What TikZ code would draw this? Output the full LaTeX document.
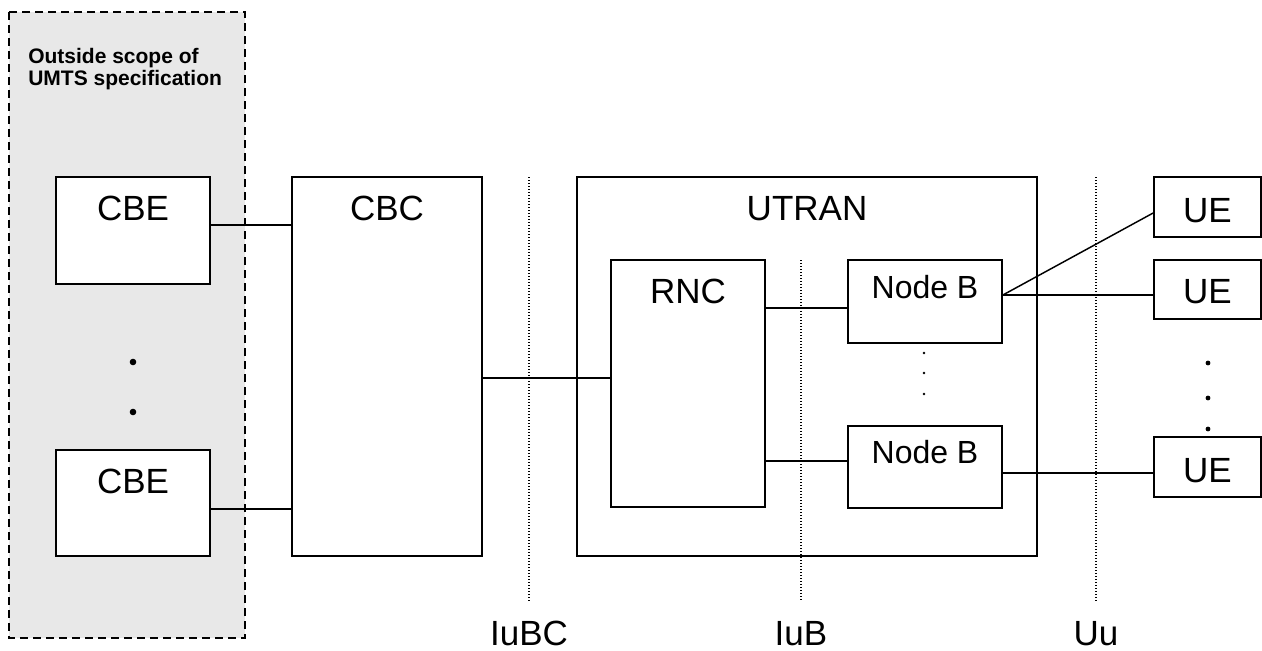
\documentclass[tikz,border=0pt]{standalone}
\usepackage{fontspec}
\setmainfont{Liberation Sans}
\begin{document}
\begin{tikzpicture}[x=0.75pt,y=-0.75pt,
  box/.style args={#1 by #2}{draw, line width=1.3pt, fill=white, inner sep=0pt,
    minimum width=#1*0.75pt, minimum height=#2*0.75pt},
  big/.style={font=\fontsize{26.25}{30}\selectfont, inner sep=0pt, anchor=base},
  mid/.style={font=\fontsize{24}{28}\selectfont, inner sep=0pt, anchor=base},
  note/.style={font=\fontsize{15.75}{16.5}\selectfont\bfseries, inner sep=0pt, anchor=base west},
  link/.style={line width=1.1pt},
  iface/.style={line width=0.9pt, dash pattern=on 0.75pt off 1.5pt},
  edge/.style={line width=1.4pt, dash pattern=on 6pt off 3.75pt}]

\useasboundingbox (0,0) rectangle (1262,650);

% region outside the UMTS specification
\fill[fill={rgb,255:red,232;green,232;blue,232}] (9,12) rectangle (245,638);
\draw[edge] (9,12) rectangle (245,638);
\node[note] (out1) at (28,63) {Outside scope of};
\node[note] (out2) at (28,85) {UMTS specification};

% interface boundaries
\coordinate (iubcT) at (529,177); \coordinate (iubcB) at (529,602);
\coordinate (iubT)  at (801,260); \coordinate (iubB)  at (801,602);
\coordinate (uuT)   at (1096,177); \coordinate (uuB)  at (1096,602);
\draw[iface] (iubcT) -- (iubcB);
\draw[iface] (uuT) -- (uuB);

% broadcast entities
\node[box=154 by 107] (cbe1) at (133,230.5) {};
\node[box=154 by 106] (cbe2) at (133,503) {};
\node[big] (cbe1t) at (133,220) {CBE};
\node[big] (cbe2t) at (133,493) {CBE};
\fill (133,362) circle[radius=3.3];
\fill (133,412) circle[radius=3.3];

% centre
\node[box=190 by 379] (cbc) at (387,366.5) {};
\node[big] (cbct) at (387,220) {CBC};

% radio access network
\node[box=460 by 379] (utran) at (807,366.5) {};
\node[big] (utrant) at (807,220) {UTRAN};
\draw[iface] (iubT) -- (iubB);
\node[box=154 by 247] (rnc) at (688,383.5) {};
\node[big] (rnct) at (688,303) {RNC};
\node[box=154 by 83] (nb1) at (925,301.5) {};
\node[box=154 by 82] (nb2) at (925,467) {};
\node[mid] (nb1t) at (925,298) {Node B};
\node[mid] (nb2t) at (925,463) {Node B};
\fill (924,353) circle[radius=1.4];
\fill (924,373) circle[radius=1.4];
\fill (924,394) circle[radius=1.4];

% user equipment
\fill (1208,363) circle[radius=2.4];
\fill (1208,398) circle[radius=2.4];
\fill (1208,429) circle[radius=2.4];
\node[box=107 by 60] (ue1) at (1207.5,207) {};
\node[box=107 by 59] (ue2) at (1207.5,289.5) {};
\node[box=107 by 60] (ue3) at (1207.5,467) {};
\node[big] (ue1t) at (1207.5,222) {UE};
\node[big] (ue2t) at (1207.5,303) {UE};
\node[big] (ue3t) at (1207.5,482) {UE};

% connections
\draw[link] (cbe1.east |- 0,225) -- (cbc.west |- 0,225);
\draw[link] (cbe2.east |- 0,509) -- (cbc.west |- 0,509);
\draw[link] (cbc.east |- 0,378) -- (rnc.west |- 0,378);
\draw[link] (rnc.east |- 0,308) -- (nb1.west |- 0,308);
\draw[link] (rnc.east |- 0,461) -- (nb2.west |- 0,461);
\draw[link] (nb1.east |- 0,295) -- (ue1.west |- 0,213);
\draw[link] (nb1.east |- 0,295) -- (ue2.west |- 0,295);
\draw[link] (nb2.east |- 0,473) -- (ue3.west |- 0,473);

% interface names
\node[big] (iubc) at (529,645) {IuBC};
\node[big] (iub)  at (801,645) {IuB};
\node[big] (uu)   at (1096,645) {Uu};
\end{tikzpicture}
\end{document}
